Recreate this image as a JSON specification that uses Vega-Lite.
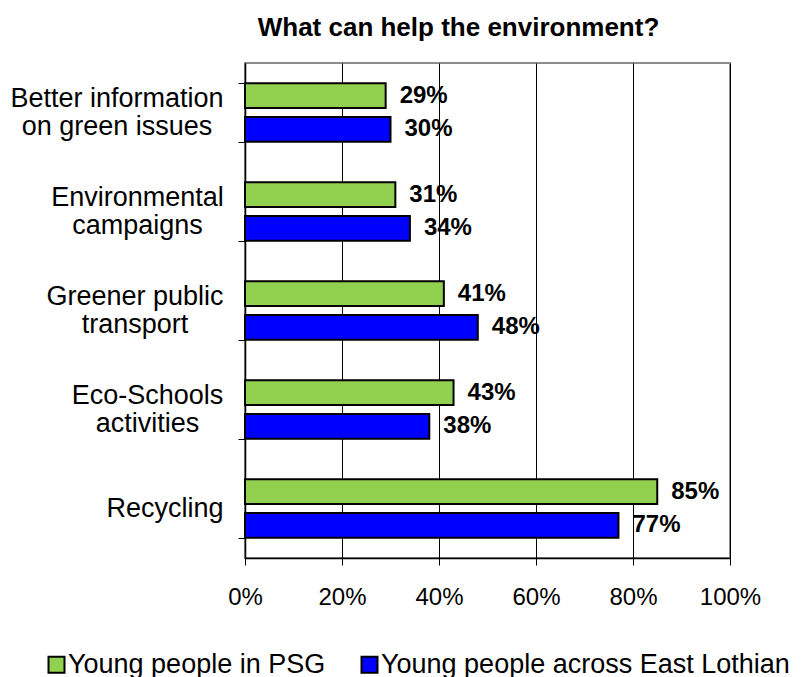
{
  "$schema": "https://vega.github.io/schema/vega-lite/v6.json",
  "autosize": "none",
  "width": 485,
  "height": 495,
  "padding": {"left": 245, "top": 63, "right": 81, "bottom": 119},
  "background": "white",
  "config": {
    "font": "Liberation Sans",
    "view": {"stroke": "#8c8c8c", "strokeWidth": 2}
  },
  "title": {
    "text": "What can help the environment?",
    "font": "Liberation Sans",
    "fontSize": 26,
    "fontWeight": "bold",
    "color": "black",
    "anchor": "middle",
    "baseline": "alphabetic",
    "offset": 27,
    "dx": -29,
    "dy": 40
  },
  "data": {
    "values": [
      {"cat": "Better information|on green issues", "series": "Young people in PSG", "v": 0.29},
      {"cat": "Better information|on green issues", "series": "Young people across East Lothian", "v": 0.30},
      {"cat": "Environmental|campaigns", "series": "Young people in PSG", "v": 0.31},
      {"cat": "Environmental|campaigns", "series": "Young people across East Lothian", "v": 0.34},
      {"cat": "Greener public|transport", "series": "Young people in PSG", "v": 0.41},
      {"cat": "Greener public|transport", "series": "Young people across East Lothian", "v": 0.48},
      {"cat": "Eco-Schools|activities", "series": "Young people in PSG", "v": 0.43},
      {"cat": "Eco-Schools|activities", "series": "Young people across East Lothian", "v": 0.38},
      {"cat": "Recycling", "series": "Young people in PSG", "v": 0.85},
      {"cat": "Recycling", "series": "Young people across East Lothian", "v": 0.77}
    ]
  },
  "encoding": {
    "y": {
      "field": "cat",
      "type": "nominal",
      "sort": null,
      "scale": {"paddingInner": 0.407, "paddingOuter": 0.2035},
      "axis": {
        "title": null,
        "labelExpr": "isValid(datum.value) ? split(datum.value, '|') : ''",
        "labelFont": "Liberation Sans",
        "labelFontSize": 27,
        "labelColor": "black",
        "labelLineHeight": 28,
        "labelAlign": "center",
        "labelBaseline": "middle",
        "labelLimit": 400,
        "labelOffset": {
          "condition": {"test": "isValid(datum.value) && indexof(datum.value, '|') >= 0", "value": -14},
          "value": 0
        },
        "labelPadding": {
          "condition": [
            {"test": "datum.value == 'Recycling'", "value": 73.5},
            {"test": "datum.value == 'Better information|on green issues'", "value": 121.5},
            {"test": "datum.value == 'Environmental|campaigns'", "value": 101},
            {"test": "datum.value == 'Greener public|transport'", "value": 103.5}
          ],
          "value": 91
        },
        "tickBand": "extent",
        "tickSize": 7,
        "tickColor": "black",
        "domainColor": "black",
        "domainWidth": 1.5,
        "grid": false
      }
    },
    "yOffset": {
      "field": "series",
      "type": "nominal",
      "sort": ["Young people in PSG", "Young people across East Lothian"],
      "scale": {"paddingInner": 0.26, "paddingOuter": 0}
    }
  },
  "layer": [
    {
      "mark": {"type": "bar", "stroke": "black", "strokeWidth": 2},
      "encoding": {
        "x": {
          "field": "v",
          "type": "quantitative",
          "scale": {"domain": [0, 1]},
          "axis": {
            "title": null,
            "format": ".0%",
            "values": [0, 0.2, 0.4, 0.6, 0.8, 1],
            "labelFont": "Liberation Sans",
            "labelFontSize": 24,
            "labelColor": "black",
            "labelPadding": 20,
            "labelFlush": false,
            "tickSize": 7,
            "tickColor": "black",
            "domainColor": "black",
            "domainWidth": 1.5,
            "grid": true,
            "gridColor": "black",
            "gridWidth": 1
          }
        },
        "color": {
          "field": "series",
          "type": "nominal",
          "sort": ["Young people in PSG", "Young people across East Lothian"],
          "scale": {"domain": ["Young people in PSG", "Young people across East Lothian"], "range": ["#92D050", "#0000FF"]},
          "legend": {
            "title": null,
            "orient": "none",
            "direction": "horizontal",
            "legendX": -202,
            "legendY": 588,
            "symbolType": "square",
            "symbolSize": 256,
            "symbolStrokeColor": "black",
            "symbolStrokeWidth": 2,
            "symbolOpacity": 1,
            "labelFont": "Liberation Sans",
            "labelFontSize": 27,
            "labelColor": "black",
            "labelOffset": -2,
            "labelLimit": 500,
            "columnPadding": 30,
            "padding": 0
          }
        }
      }
    },
    {
      "mark": {"type": "text", "align": "left", "baseline": "middle", "dx": 14, "font": "Liberation Sans", "fontSize": 24, "fontWeight": "bold", "color": "black"},
      "encoding": {
        "x": {"field": "v", "type": "quantitative"},
        "text": {"field": "v", "type": "quantitative", "format": ".0%"}
      }
    }
  ]
}
